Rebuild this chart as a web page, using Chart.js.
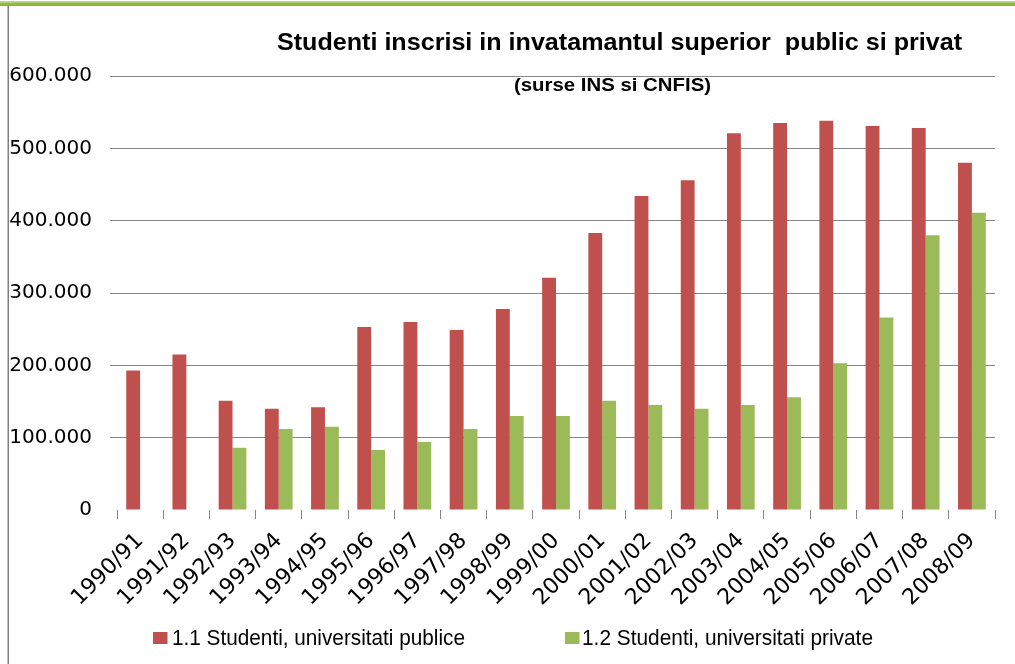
<!DOCTYPE html>
<html><head><meta charset="utf-8">
<script src="https://cdn.jsdelivr.net/npm/chart.js@4"></script>
<style>html,body{margin:0;padding:0;background:#fff}#wrap{width:1015px;height:664px;position:relative}canvas{display:block}</style>
</head><body><div id="wrap"><canvas id="c" width="1015" height="664"></canvas></div>
<script>
const categories = ['1990/91','1991/92','1992/93','1993/94','1994/95','1995/96','1996/97','1997/98','1998/99','1999/00','2000/01','2001/02','2002/03','2003/04','2004/05','2005/06','2006/07','2007/08','2008/09'];
const publicStudents = [193000,215000,151000,140000,142000,253000,260000,249000,278000,321000,383000,434000,456000,521000,535000,538000,531000,528000,480000];
const privateStudents = [null,null,86000,112000,115000,83000,94000,112000,130000,130000,151000,145000,140000,145000,156000,203000,266000,380000,411000];
const seriesNames = ['1.1 Studenti, universitati publice','1.2 Studenti, universitati private'];
const seriesColors = ['#c0504d','#9bbb59'];
const yMin = 0, yMax = 600000, yStep = 100000;
const titleText = 'Studenti inscrisi in invatamantul superior  public si privat';
const subtitleText = '(surse INS si CNFIS)';

function fmt(v){ return String(v).replace(/\B(?=(\d{3})+(?!\d))/g,'.'); }

function fitText(ctx, text, font, left, baseline, width){
  ctx.save();
  ctx.font = font;
  const m = ctx.measureText(text).width;
  ctx.translate(left, baseline);
  ctx.scale(width / m, 1);
  ctx.textAlign = 'left';
  ctx.textBaseline = 'alphabetic';
  ctx.fillStyle = '#000';
  ctx.fillText(text, 0, 0);
  ctx.restore();
}

const decor = {
  id: 'decor',
  beforeDraw(chart){
    const ctx = chart.ctx;
    ctx.save();
    ctx.fillStyle = '#fff';
    ctx.fillRect(0, 0, chart.width, chart.height);
    ctx.restore();
  },
  afterDraw(chart){
    const ctx = chart.ctx;
    ctx.save();
    ctx.fillStyle = '#b5d377';
    ctx.fillRect(0, 1, chart.width, 2);
    ctx.fillStyle = '#8db83a';
    ctx.fillRect(0, 3, chart.width, 3);
    ctx.fillStyle = '#808080';
    ctx.fillRect(7.5, 5.5, 1.5, chart.height);
    ctx.restore();
    fitText(ctx, titleText, 'bold 23px "Liberation Sans"', 277, 50, 685);
    fitText(ctx, subtitleText, 'bold 18px "Liberation Sans"', 514, 91, 197);
    const items = [
      {box: 153, text: 172, w: 293},
      {box: 565, text: 582, w: 291}
    ];
    chart.data.datasets.forEach((ds, i) => {
      const it = items[i];
      ctx.save();
      ctx.fillStyle = ds.backgroundColor;
      ctx.fillRect(it.box, 632, 14.5, 12);
      ctx.restore();
      fitText(ctx, ds.label, '22px "Liberation Sans"', it.text, 645, it.w);
    });
  }
};

new Chart(document.getElementById('c'), {
  type: 'bar',
  data: {
    labels: categories,
    datasets: [
      {label: seriesNames[0], data: publicStudents, backgroundColor: seriesColors[0], borderWidth: 0},
      {label: seriesNames[1], data: privateStudents, backgroundColor: seriesColors[1], borderWidth: 0}
    ]
  },
  options: {
    responsive: false,
    animation: false,
    devicePixelRatio: 1,
    categoryPercentage: 0.6,
    barPercentage: 1.0,
    layout: {padding: {left: 10, right: 20, top: 76, bottom: 0}},
    plugins: {legend: {display: false}, title: {display: false}, tooltip: {enabled: false}},
    scales: {
      x: {
        grid: {offset: true, drawOnChartArea: false, drawTicks: true, tickLength: 9, color: '#868686', lineWidth: 1},
        border: {display: false},
        ticks: {font: {family: 'DejaVu Sans', size: 22}, color: '#000', minRotation: 45, maxRotation: 45, autoSkip: false, padding: 9},
        afterFit(s){ s.height = 154; }
      },
      y: {
        min: yMin, max: yMax,
        ticks: {stepSize: yStep, callback: v => fmt(v), font: {family: 'DejaVu Sans', size: 20}, color: '#000', padding: 18},
        grid: {color: c => (c.tick && c.tick.value === 0) ? 'rgba(0,0,0,0)' : '#868686', lineWidth: 1, tickLength: 7},
        border: {display: false},
        afterFit(s){ s.width = 107; }
      }
    }
  },
  plugins: [decor]
});
</script>
</body></html>
